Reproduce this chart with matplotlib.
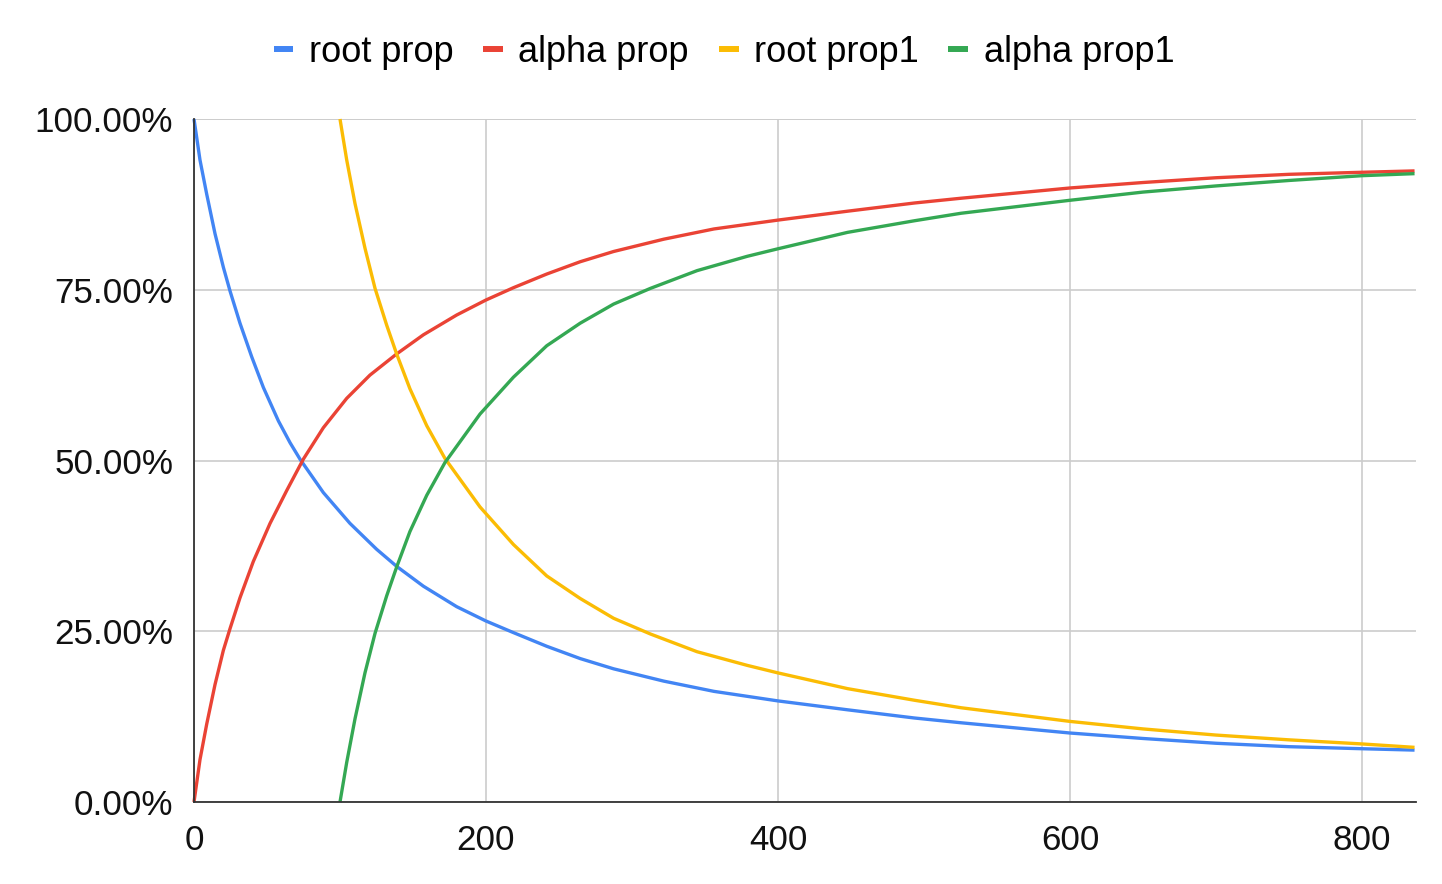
import matplotlib.pyplot as plt
from matplotlib.lines import Line2D
from matplotlib.ticker import FuncFormatter

plt.rcParams['font.family'] = ['Liberation Sans', 'DejaVu Sans']

# valores (em %), cada série com seus próprios x
x_root = [0, 4.1, 8.7, 14.4, 20.1, 24.7, 31.5, 39.5, 47.5, 57.8, 65.8, 72.6, 88.6, 106.8, 125.1,
          138.8, 157.1, 179.9, 200, 218.8, 241.6, 264.5, 287.4, 321.7, 356.1, 400, 447.6, 493.4,
          525.4, 600, 650, 700, 750, 800, 836]
root_prop = [100, 94.0, 89.0, 83.2, 78.3, 74.8, 70.1, 65.2, 60.7, 55.8, 52.6, 50.2, 45.3, 40.8, 37.0,
             34.5, 31.6, 28.6, 26.5, 24.8, 22.8, 21.0, 19.5, 17.7, 16.2, 14.8, 13.5, 12.3,
             11.6, 10.1, 9.3, 8.6, 8.1, 7.8, 7.6]

x_alpha = [0, 4.1, 8.7, 14.4, 20.1, 24.7, 31.5, 40.6, 52.1, 63.5, 74.9, 88.6, 104.6, 120.5, 138.8,
           157.1, 179.9, 200, 218.8, 241.6, 264.5, 287.4, 321.7, 356.1, 400, 447.6, 493.4, 525.4,
           600, 650, 700, 750, 800, 836]
alpha_prop = [0, 6.2, 11.4, 17.2, 22.2, 25.4, 29.9, 35.2, 40.8, 45.6, 50.2, 54.8, 59.1, 62.5, 65.6,
              68.4, 71.3, 73.5, 75.3, 77.3, 79.1, 80.6, 82.4, 83.9, 85.2, 86.5, 87.7, 88.4,
              89.9, 90.7, 91.4, 91.9, 92.2, 92.4]

x_root1 = [100, 104.6, 110.3, 117.1, 124.0, 132.0, 138.8, 147.9, 159.4, 171.9, 195.9, 218.8, 241.6,
           264.5, 287.4, 312.6, 344.6, 379.0, 400, 447.6, 493.4, 525.4, 600, 650, 700, 750, 800, 836]
root_prop1 = [100, 94.0, 87.6, 81.1, 75.2, 69.8, 65.6, 60.5, 55.1, 50.3, 43.2, 37.7, 33.1,
              29.8, 26.9, 24.6, 22.0, 20.0, 18.9, 16.6, 14.9, 13.8, 11.8, 10.7, 9.8, 9.1, 8.5, 8.0]

x_alpha1 = [100, 104.6, 110.3, 117.1, 124.0, 132.0, 138.8, 147.9, 159.4, 171.9, 195.9, 218.8, 241.6,
            264.5, 287.4, 312.6, 344.6, 379.0, 400, 447.6, 493.4, 525.4, 600, 650, 700, 750, 800, 836]
alpha_prop1 = [0, 5.8, 12.2, 18.9, 24.7, 30.2, 34.4, 39.6, 44.9, 49.7, 56.8, 62.2, 66.8,
               70.1, 72.9, 75.2, 77.8, 79.9, 81.0, 83.4, 85.1, 86.2, 88.1, 89.3, 90.2, 91.0, 91.7, 92.0]

labels = ["root prop", "alpha prop", "root prop1", "alpha prop1"]
cores = ["#4285F4", "#EA4335", "#FBBC04", "#34A853"]

fig = plt.figure(figsize=(14.42, 8.84), dpi=100)
ax = fig.add_axes([194 / 1442, 1 - 802 / 884, (1416 - 194) / 1442, (802 - 119) / 884])

series = [(x_root, root_prop), (x_alpha, alpha_prop), (x_root1, root_prop1), (x_alpha1, alpha_prop1)]
for (xs, ys), cor in zip(series, cores):
    ax.plot(xs, ys, color=cor, linewidth=2.4, clip_on=False, zorder=3,
            solid_joinstyle='round', solid_capstyle='butt')

ax.set_xlim(0, 837)
ax.set_ylim(0, 100)
ax.set_xticks([0, 200, 400, 600, 800])
ax.set_yticks([0, 25, 50, 75, 100])
ax.yaxis.set_major_formatter(FuncFormatter(lambda v, p: f"{v:.2f}%"))
ax.tick_params(length=0, labelsize=25.2, colors='#111111')
ax.tick_params(axis='x', pad=16)
ax.tick_params(axis='y', pad=15)

ax.grid(True, color='#cccccc', linewidth=1.2)
ax.set_axisbelow(True)
for lado in ['top', 'right']:
    ax.spines[lado].set_visible(False)
for lado in ['left', 'bottom']:
    ax.spines[lado].set_color('#333333')
    ax.spines[lado].set_linewidth(1.3)
    ax.spines[lado].set_zorder(4)

# linha de grade em 100% (topo)
ax.axhline(100, color='#cccccc', linewidth=1.2, zorder=1)

handles = [Line2D([0], [0], color=c, linewidth=4.3, solid_capstyle='butt') for c in cores]
fig.legend(handles, labels, loc='center', bbox_to_anchor=(0.502, 1 - 52 / 884), ncol=4,
           frameon=False, fontsize=26, handlelength=0.55, handletextpad=0.42, columnspacing=0.83)

plt.savefig("out.png", dpi=100)
